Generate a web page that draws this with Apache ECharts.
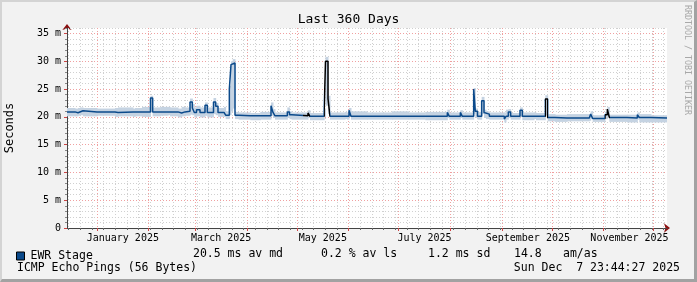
<!DOCTYPE html>
<html>
<head>
<meta charset="utf-8">
<script src="https://cdn.jsdelivr.net/npm/echarts@6/dist/echarts.min.js"></script>
<style>
  html, body { margin: 0; padding: 0; background: #f2f2f2; }
  #wrap { position: relative; width: 697px; height: 282px; }
  #chart { position: absolute; left: 0; top: 0; width: 697px; height: 282px; }
  #frame { position: absolute; left: 0; top: 0; width: 697px; height: 282px; box-sizing: border-box;
           border-top: 2px solid #d4d4d4; border-left: 2px solid #d4d4d4;
           border-bottom: 3px solid #a2a2a2; border-right: 3px solid #a2a2a2; pointer-events: none; }
</style>
</head>
<body>
<div id="wrap"><div id="chart"></div><div id="frame"></div></div>
<script>
// ---- data (x = days since 14 Dec 2024, values in ms) ----
const days = [0, 4.8, 6.6, 7.8, 9.6, 18, 28.8, 30.6, 39.6, 40.8, 45, 50.1, 51.4, 56, 60.6, 61.8, 66.6, 68.8, 70.8,
  73.8, 75.2, 76.4, 77.7, 79.8, 82.8, 84.2, 87.9, 89.2, 90.6, 94.2, 95.2, 97.4, 98.4, 99.4, 100.8, 103, 110, 116,
  122.4, 123.6, 124.8, 132.2, 133.5, 134.8, 144.6, 145.8, 154.3, 155.1, 156.6, 157.8, 166.8, 168, 169.2, 170.4,
  180, 195, 205, 215, 228.2, 229.4, 236, 237.2, 244, 245, 246.3, 248.8, 250.2, 251.4, 253.4, 262.4, 263.4, 264.8,
  266.2, 271.8, 273.2, 280.2, 281.4, 287, 288.4, 292.8, 300, 313.4, 314.2, 315.4, 322.8, 324.2, 325.4, 336, 342.2,
  343.4, 350.4, 360];
const median = [20.9, 20.75, 20.9, 21.1, 20.9, 20.9, 20.8, 20.9, 20.8, 20.9, 20.9, 23.4, 20.9, 20.9, 21.2, 20.9, 20.7, 20.9, 21.0,
  22.7, 21.6, 20.8, 21.3, 20.8, 22.1, 20.8, 22.7, 21.9, 20.8, 21.1, 20.3, 25.0, 29.4, 29.7, 20.3, 20.2, 20.2, 20.2,
  22.0, 20.8, 20.2, 20.9, 20.4, 20.2, 20.7, 20.1, 21.0, 30.0, 23.3, 20.1, 20.3, 20.1, 21.2, 20.1,
  20.1, 20.1, 20.1, 20.1, 20.8, 20.1, 20.8, 20.1, 25.0, 21.0, 20.1, 22.9, 20.8, 20.5, 20.1, 19.6, 20.1, 20.9,
  20.1, 21.2, 20.1, 20.3, 20.1, 23.2, 19.9, 19.8, 19.8, 19.9, 20.5, 19.7, 20.4, 21.4, 19.9, 19.8, 20.4,
  19.9, 19.8, 19.8];
const smokeLow = [20.1, 20.1, 20.2, 20.3, 20.1, 20.2, 20.0, 20.1, 20.0, 20.1, 20.0, 20.8, 20.1, 20.2, 20.3, 20.1, 19.9, 20.1, 20.2,
  20.4, 20.3, 19.9, 20.1, 19.9, 20.2, 19.9, 20.5, 20.3, 20.0, 20.0, 19.6, 20.3, 21.0, 21.5, 19.6, 19.5, 19.4, 19.5,
  20.2, 19.8, 19.5, 19.8, 19.6, 19.5, 19.8, 19.4, 20.0, 22.0, 20.5, 19.5, 19.6, 19.5, 20.0, 19.5,
  19.5, 19.5, 19.5, 19.4, 19.8, 19.5, 19.8, 19.5, 20.5, 19.8, 19.5, 20.5, 19.8, 19.6, 19.5, 19.0, 19.5, 19.8,
  19.5, 20.0, 19.4, 19.6, 19.4, 20.3, 19.2, 19.1, 19.2, 19.3, 19.6, 19.1, 19.6, 20.0, 19.1, 19.0, 19.5,
  19.0, 19.0, 19.0];
const smokeHigh = [21.6, 21.5, 21.6, 21.7, 21.6, 21.5, 21.6, 21.7, 21.5, 21.6, 21.8, 23.8, 21.7, 21.8, 21.8, 21.7, 21.5, 21.8, 21.7,
  23.3, 22.3, 21.7, 22.0, 21.7, 22.6, 21.7, 23.4, 22.5, 21.6, 21.8, 21.0, 25.6, 30.0, 30.4, 20.9, 20.8, 20.7, 20.9,
  22.6, 21.4, 20.8, 21.7, 21.0, 20.8, 21.2, 20.7, 21.5, 30.8, 23.8, 20.8, 20.9, 20.7, 21.6, 21.0,
  20.8, 21.0, 20.8, 20.9, 21.3, 20.8, 21.2, 20.8, 25.2, 21.5, 20.9, 23.6, 21.3, 21.0, 20.8, 20.8, 21.3, 21.4,
  20.7, 21.7, 20.8, 20.8, 20.7, 23.9, 20.5, 20.4, 20.5, 20.5, 21.0, 20.3, 20.9, 21.8, 20.4, 20.4, 20.8,
  20.5, 20.3, 20.3];
const lossRanges = [[141.6, 146], [154.3, 158], [286.8, 288.6], [322.6, 325.6]];
const yTicks = [0, 5, 10, 15, 20, 25, 30, 35];
const monthLabels = ['January 2025', 'March 2025', 'May 2025', 'July 2025', 'September 2025', 'November 2025'];
const seriesName = 'EWR Stage';
const stats = ['20.5 ms av md', '0.2 % av ls', '1.2 ms sd', '14.8', 'am/as'];
const subtitle = 'ICMP Echo Pings (56 Bytes)';
const stamp = 'Sun Dec  7 23:44:27 2025';

// ---- calendar helpers (grid positions) ----
const origin = Date.UTC(2024, 11, 14);
const dayOf = (y, m, d) => (Date.UTC(y, m, d) - origin) / 86400000;
const monthStarts = [];
for (let i = 0; i < 12; i++) monthStarts.push(dayOf(2025, i, 1));
const weekDays = [];
for (let d = dayOf(2024, 11, 15); d <= 360; d += 7) weekDays.push(d);
const labelDays = [0, 2, 4, 6, 8, 10].map(m => dayOf(2025, m, 1) + 15.5);

const FONT = 'DejaVu Sans Mono';
const blue = '#0b4a8b';
const smokeColor = '#c5d3e2';
const xMin = 0, xMax = 360, yMin = 0, yMax = 36;

const medData = days.map((d, i) => [d, median[i]]);
// band cells: [from, to, low, high]
const bandData = days.slice(0, -1).map((d, i) => [d, days[i + 1], smokeLow[i], smokeHigh[i]]);

const chart = echarts.init(document.getElementById('chart'), null, { renderer: 'canvas' });
chart.setOption({
  backgroundColor: '#f2f2f2',
  animation: false,
  textStyle: { fontFamily: FONT },
  title: {
    text: 'Last 360 Days', left: 'center', top: 13, padding: 0,
    textStyle: { fontFamily: FONT, fontSize: 13, fontWeight: 'normal', color: '#000' }
  },
  grid: { left: 67, top: 28, width: 600, height: 200, backgroundColor: '#fff', show: true, borderWidth: 0,
          containLabel: false, outerBoundsMode: 'none' },
  legend: {
    data: [{ name: seriesName, itemStyle: { color: blue, borderColor: '#000', borderWidth: 1 } }],
    left: 16, top: 250, padding: 0, itemWidth: 8, itemHeight: 8, icon: 'rect',
    textStyle: { fontFamily: FONT, fontSize: 11.5, color: '#000', padding: [0, 0, 0, 1] }
  },
  visualMap: {
    type: 'piecewise', show: false, dimension: 0, seriesIndex: 1,
    pieces: lossRanges.map(r => ({ gte: r[0], lt: r[1], color: '#000000' })),
    outOfRange: { color: blue }
  },
  xAxis: [
    { type: 'value', min: xMin, max: xMax, z: 1, position: 'bottom',
      axisLine: { show: true, onZero: false, lineStyle: { color: '#444', width: 1 } },
      axisTick: { show: true, customValues: weekDays, length: 2, lineStyle: { color: '#666' } },
      axisLabel: { show: false },
      splitLine: { show: true, lineStyle: { color: '#d0d0d0', type: [1, 2], width: 1 } } },
    { type: 'value', min: xMin, max: xMax, z: 1, position: 'bottom',
      axisLine: { show: false, onZero: false },
      axisTick: { show: true, customValues: monthStarts, length: 3, lineStyle: { color: '#c44' } },
      axisLabel: { show: true, customValues: labelDays, margin: 5, color: '#000', fontFamily: FONT, fontSize: 10,
        formatter: v => { let k = 0, b = 1e9; labelDays.forEach((d, i) => { if (Math.abs(d - v) < b) { b = Math.abs(d - v); k = i; } }); return monthLabels[k]; } },
      splitLine: { show: true, lineStyle: { color: '#f0a0a0', type: [1, 2], width: 1 } } },
    { type: 'value', min: xMin, max: xMax, z: 0, position: 'bottom',
      axisLine: { show: true, onZero: false, symbol: ['none', 'arrow'], symbolSize: [7, 6], symbolOffset: [0, 3],
        lineStyle: { color: '#8b1010', width: 1 } },
      axisTick: { show: false }, axisLabel: { show: false }, splitLine: { show: false } }
  ],
  yAxis: [
    { type: 'value', min: yMin, max: yMax, interval: 1, position: 'left', offset: 0, z: 1,
      name: 'Seconds', nameLocation: 'middle', nameGap: 51, nameRotate: 90,
      nameTextStyle: { fontFamily: FONT, fontSize: 12, color: '#000' },
      axisLine: { show: true, onZero: false, lineStyle: { color: '#444', width: 1 } },
      axisTick: { show: true, length: 2, lineStyle: { color: '#888' } },
      axisLabel: { show: false },
      splitLine: { show: true, lineStyle: { color: '#d0d0d0', type: [1, 2], width: 1 } } },
    { type: 'value', min: yMin, max: yMax, position: 'left', offset: 0, z: 1,
      axisLine: { show: false, onZero: false },
      axisTick: { show: true, customValues: yTicks, length: 3, lineStyle: { color: '#c44' } },
      axisLabel: { show: true, customValues: yTicks, margin: 6, color: '#000', fontFamily: FONT, fontSize: 10,
        formatter: v => v === 0 ? '0' : v + ' m' },
      splitLine: { show: true, lineStyle: { color: '#f0a0a0', type: [1, 2], width: 1 } } },
    { type: 'value', min: yMin, max: yMax, position: 'left', offset: 0, z: 0,
      axisLine: { show: true, onZero: false, symbol: ['none', 'arrow'], symbolSize: [7, 6], symbolOffset: [0, 4],
        lineStyle: { color: '#8b1010', width: 1 } },
      axisTick: { show: false }, axisLabel: { show: false }, splitLine: { show: false } }
  ],
  series: [
    { name: 'smoke', type: 'custom', data: bandData, silent: true, z: 2, clip: true,
      encode: { x: [0, 1], y: [2, 3] },
      renderItem: (params, api) => {
        const p0 = api.coord([api.value(0), api.value(3)]);
        const p1 = api.coord([api.value(1), api.value(2)]);
        return { type: 'rect', shape: { x: p0[0], y: p0[1], width: p1[0] - p0[0] + 0.5, height: p1[1] - p0[1] },
                 style: { fill: smokeColor } };
      } },
    { name: seriesName, type: 'line', step: 'end', data: medData, showSymbol: false, silent: true,
      lineStyle: { width: 1.5 }, z: 3 }
  ],
  graphic: [
    { type: 'text', left: 193, top: 248, style: { text: stats[0], font: '11.5px ' + FONT, fill: '#000' } },
    { type: 'text', left: 321, top: 248, style: { text: stats[1], font: '11.5px ' + FONT, fill: '#000' } },
    { type: 'text', left: 428, top: 248, style: { text: stats[2], font: '11.5px ' + FONT, fill: '#000' } },
    { type: 'text', left: 514, top: 248, style: { text: stats[3], font: '11.5px ' + FONT, fill: '#000' } },
    { type: 'text', left: 563, top: 248, style: { text: stats[4], font: '11.5px ' + FONT, fill: '#000' } },
    { type: 'text', left: 17, top: 262, style: { text: subtitle, font: '11.5px ' + FONT, fill: '#000' } },
    { type: 'text', right: 17, top: 262, style: { text: stamp, font: '11.5px ' + FONT, fill: '#000' } },
    { type: 'text', x: 691, y: 5, rotation: -Math.PI / 2,
      style: { text: 'RRDTOOL / TOBI OETIKER', font: '8.3px ' + FONT, fill: '#a8a8a8' } }
  ]
});
</script>
</body>
</html>
